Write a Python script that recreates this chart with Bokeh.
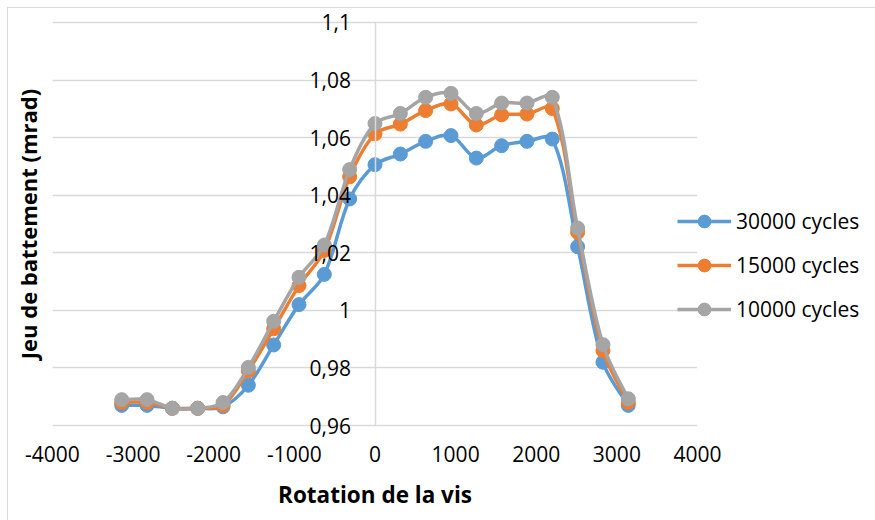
import math
from bokeh.plotting import figure
from bokeh.models import (FixedTicker, CustomJSTickFormatter, Legend, LegendItem, Title,
                          ColumnDataSource, Range1d)
from bokeh.embed import file_html
from bokeh.resources import INLINE

# ---- data ----
rotation = [-3141.6, -2827.4, -2513.3, -2199.1, -1885.0, -1570.8, -1256.6, -942.5, -628.3, -314.2,
            0.0, 314.2, 628.3, 942.5, 1256.6, 1570.8, 1885.0, 2199.1, 2513.3, 2827.4, 3141.6]
cycles_30000 = [0.967, 0.967, 0.966, 0.966, 0.9665, 0.974, 0.988, 1.002, 1.0125, 1.0387,
                1.0506, 1.0543, 1.0587, 1.0607, 1.0529, 1.0572, 1.0587, 1.0595, 1.0221, 0.982, 0.967]
cycles_15000 = [0.968, 0.968, 0.966, 0.966, 0.967, 0.979, 0.9936, 1.0086, 1.0208, 1.0464,
                1.0613, 1.0647, 1.0694, 1.0717, 1.0644, 1.0679, 1.0682, 1.0701, 1.0271, 0.986, 0.968]
cycles_10000 = [0.969, 0.969, 0.966, 0.966, 0.968, 0.9802, 0.9962, 1.0115, 1.0227, 1.0489,
                1.0649, 1.0684, 1.074, 1.0754, 1.0684, 1.072, 1.072, 1.074, 1.0286, 0.9881, 0.9693]
series_names = ["30000 cycles", "15000 cycles", "10000 cycles"]
series_colors = ["#5B9BD5", "#ED7D31", "#A5A5A5"]
x_ticks = [-4000, -3000, -2000, -1000, 0, 1000, 2000, 3000, 4000]
y_ticks = [0.96, 0.98, 1.0, 1.02, 1.04, 1.06, 1.08, 1.1]
x_title = "Rotation de la vis"
y_title = "Jeu de battement (mrad)"

FONT = "Open Sans"
GRID = "#d9d9d9"
FRAME_W, FRAME_H = 645, 429
X_START, X_END = -4000, 4000
Y_START, Y_END = 0.9555, 1.1045


def smooth_segments(xs, ys):
    """Cubic Bezier segments through the data points (Excel-like smoothing,
    tangent lengths weighted by the neighbouring segment lengths on screen)."""
    sx = FRAME_W / (X_END - X_START)
    sy = FRAME_H / (Y_END - Y_START)
    n = len(xs)

    def seglen(i):
        return math.hypot((xs[i + 1] - xs[i]) * sx, (ys[i + 1] - ys[i]) * sy)

    L = [seglen(i) for i in range(n - 1)]

    def tangent(i):
        a = max(i - 1, 0)
        b = min(i + 1, n - 1)
        return xs[b] - xs[a], ys[b] - ys[a]

    out = {k: [] for k in ("x0", "y0", "x1", "y1", "cx0", "cy0", "cx1", "cy1")}
    for i in range(n - 1):
        t0x, t0y = tangent(i)
        t1x, t1y = tangent(i + 1)
        r0 = L[i] / (L[i - 1] + L[i]) if i > 0 else 0.5
        r1 = L[i] / (L[i] + L[i + 1]) if i + 1 < n - 1 else 0.5
        out["x0"].append(xs[i]); out["y0"].append(ys[i])
        out["x1"].append(xs[i + 1]); out["y1"].append(ys[i + 1])
        out["cx0"].append(xs[i] + t0x * r0 / 3.0)
        out["cy0"].append(ys[i] + t0y * r0 / 3.0)
        out["cx1"].append(xs[i + 1] - t1x * r1 / 3.0)
        out["cy1"].append(ys[i + 1] - t1y * r1 / 3.0)
    return out


p = figure(frame_width=FRAME_W, frame_height=FRAME_H,
           min_border_left=52, min_border_right=178, min_border_top=9, min_border_bottom=82,
           x_range=Range1d(X_START, X_END), y_range=Range1d(Y_START, Y_END),
           output_backend="svg", toolbar_location=None,
           background_fill_color="white", border_fill_color=None)
p.outline_line_color = None
p.styles = {
    "background": ("linear-gradient(#d9d9d9,#d9d9d9) 7px 7px / 868px 1px no-repeat, "
                   "linear-gradient(#d9d9d9,#d9d9d9) 7px 7px / 1px 513px no-repeat, white"),
}

# axes
p.xaxis.ticker = FixedTicker(ticks=x_ticks)
p.yaxis.ticker = FixedTicker(ticks=y_ticks)
p.xaxis.formatter = CustomJSTickFormatter(code="return tick.toFixed(0);")
p.yaxis.formatter = CustomJSTickFormatter(
    code="var s = tick.toFixed(2); s = s.replace(/0+$/, ''); s = s.replace(/\\.$/, ''); return s.replace('.', ',');")
p.yaxis.fixed_location = 0
p.yaxis.bounds = (0.96, 1.1)
for ax in (p.xaxis, p.yaxis):
    ax.axis_line_color = GRID
    ax.axis_line_width = 1.5
    ax.major_tick_line_color = None
    ax.minor_tick_line_color = None
    ax.major_tick_out = 0
    ax.major_tick_in = 0
    ax.major_label_text_font = FONT
    ax.major_label_text_font_size = "21px"
    ax.major_label_text_color = "black"
p.xaxis.axis_line_color = None
p.xaxis.major_label_standoff = 7
p.yaxis.major_label_standoff = 24

p.xaxis.axis_label = x_title
p.xaxis.axis_label_text_font = FONT
p.xaxis.axis_label_text_font_size = "22.5px"
p.xaxis.axis_label_text_font_style = "bold"
p.xaxis.axis_label_text_color = "black"
p.xaxis.axis_label_standoff = 14

p.add_layout(Title(text=y_title, align="center", text_font=FONT, text_font_size="22px",
                   text_font_style="bold", text_color="black", standoff=19), "left")

p.xgrid.grid_line_color = None
p.ygrid.grid_line_color = GRID
p.ygrid.grid_line_width = 1.5

items = []
for name, ys, color in zip(series_names, [cycles_30000, cycles_15000, cycles_10000], series_colors):
    seg = ColumnDataSource(smooth_segments(rotation, ys))
    p.bezier(x0="x0", y0="y0", x1="x1", y1="y1", cx0="cx0", cy0="cy0", cx1="cx1", cy1="cy1",
             source=seg, line_color=color, line_width=3.5, line_cap="round")
    # single-point line: draws nothing in the plot, only provides the legend's line glyph
    leg_line = p.line(x=rotation[:1], y=ys[:1], line_color=color, line_width=3.5)
    pts = p.scatter(x=rotation, y=ys, size=14, fill_color=color, line_color=color)
    items.append(LegendItem(label=name, renderers=[leg_line, pts]))

legend = Legend(items=items, location=(-20, 113), orientation="vertical",
                glyph_width=54, glyph_height=32, label_height=32, spacing=12,
                label_standoff=5, padding=0, margin=0,
                label_text_font=FONT, label_text_font_size="21px", label_text_color="black",
                border_line_color=None, background_fill_alpha=0)
p.add_layout(legend, "right")

open("out.html", "w").write(file_html(p, INLINE))
